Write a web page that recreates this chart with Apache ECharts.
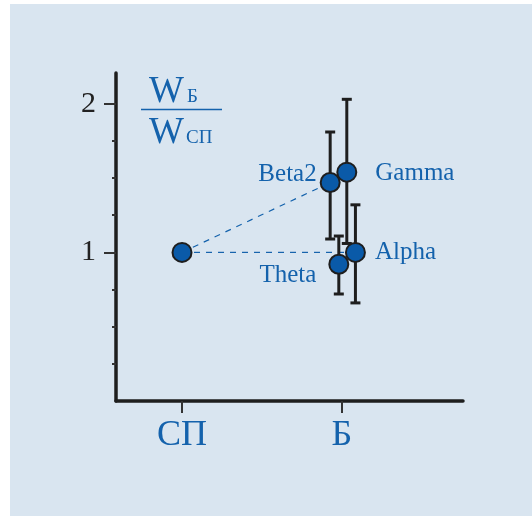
<!DOCTYPE html>
<html>
<head>
<meta charset="utf-8">
<script src="https://cdn.jsdelivr.net/npm/echarts@6/dist/echarts.min.js"></script>
<style>
  html, body { margin: 0; padding: 0; background: #ffffff; }
  #bg { position: absolute; left: 10px; top: 4px; width: 522px; height: 512px; background: #d9e5f0; }
  #chart { position: absolute; left: 0; top: 0; width: 532px; height: 516px; }
</style>
</head>
<body>
<div id="bg"></div>
<div id="chart"></div>
<script>
// ---- data ----
var categories = ['СП', 'Б'];
var referenceValue = 1.0;              // СП (normalised)
var groups = ['Beta2', 'Gamma', 'Alpha', 'Theta'];
var means  = [1.47, 1.54, 1.00, 0.92];
var lower  = [1.09, 1.06, 0.66, 0.72];
var upper  = [1.81, 2.03, 1.32, 1.11];
var xJitter = [-0.073, 0.031, 0.085, -0.019];   // horizontal spread around Б
var yMajorTicks = [1, 2];
var yMinorTicks = [0.25, 0.5, 0.75, 1.25, 1.5, 1.75];
var xTicks = [1, 2];
var connectedGroups = ['Beta2', 'Alpha'];        // dashed links from СП

// ---- styling ----
var BLUE_TEXT = '#1462ac';
var BLUE_FILL = '#0a5aa8';
var DARK = '#1e1e1e';
var FONT = '"Liberation Serif", "DejaVu Serif", serif';

var bX = 2; // position of Б category
var pts = groups.map(function (g, i) { return [bX + xJitter[i], means[i]]; });

var labelCfg = {
  Beta2: { position: 'left', distance: 3, offset: [0, -8] },
  Gamma: { position: 'right', distance: 18, offset: [0, 1] },
  Alpha: { position: 'right', distance: 9, offset: [0, 0] },
  Theta: { position: 'left', distance: 10, offset: [-2, 11] }
};

var scatterData = [{ value: [1, referenceValue], label: { show: false } }].concat(
  groups.map(function (g, i) {
    var c = labelCfg[g];
    return {
      value: pts[i],
      name: g,
      label: {
        show: true, formatter: g, position: c.position, distance: c.distance, offset: c.offset,
        color: BLUE_TEXT, fontFamily: FONT, fontSize: 25
      }
    };
  })
);

var errData = groups.map(function (g, i) { return [pts[i][0], lower[i], upper[i]]; });

var dashSeries = connectedGroups.map(function (g) {
  var i = groups.indexOf(g);
  return {
    type: 'line', data: [[1, referenceValue], pts[i]], symbol: 'none', silent: true, z: 1,
    lineStyle: { color: BLUE_TEXT, width: 1.2, type: [6, 6] }
  };
});

var chart = echarts.init(document.getElementById('chart'), null, { renderer: 'canvas' });
chart.setOption({
  backgroundColor: 'transparent',
  animation: false,
  grid: { left: 116, right: 69, top: 73, bottom: 115, containLabel: false },
  xAxis: {
    type: 'value', min: 0.587, max: 2.758,
    splitLine: { show: false },
    axisLine: { show: true, lineStyle: { color: DARK, width: 3.5 } },
    axisTick: { show: true, customValues: xTicks, length: 12, lineStyle: { color: '#333', width: 2 } },
    axisLabel: {
      customValues: xTicks, margin: 17,
      formatter: function (v) { return categories[Math.round(v) - 1]; },
      color: BLUE_TEXT, fontFamily: FONT, fontSize: 36
    }
  },
  yAxis: [{
    type: 'value', min: 0, max: 2.207, position: 'left',
    splitLine: { show: false },
    axisLine: { show: true, lineStyle: { color: DARK, width: 3.5 } },
    axisTick: { show: true, customValues: yMajorTicks, length: 12, lineStyle: { color: '#333', width: 2 } },
    axisLabel: { customValues: yMajorTicks, margin: 20, color: '#222', fontFamily: FONT, fontSize: 30 }
  }, {
    type: 'value', min: 0, max: 2.207, position: 'left', offset: 0,
    splitLine: { show: false },
    axisLine: { show: false },
    axisTick: { show: true, customValues: yMinorTicks, length: 4, lineStyle: { color: '#333', width: 2 } },
    axisLabel: { show: false }
  }],
  graphic: [
    { type: 'text', left: 149, top: 74, style: { text: 'W', fill: BLUE_TEXT, font: '37px ' + FONT } },
    { type: 'text', left: 187, top: 88, style: { text: 'Б', fill: BLUE_TEXT, font: '19px ' + FONT } },
    { type: 'line', shape: { x1: 141, y1: 109.5, x2: 222, y2: 109.5 }, style: { stroke: BLUE_TEXT, lineWidth: 1.5 } },
    { type: 'text', left: 149, top: 115, style: { text: 'W', fill: BLUE_TEXT, font: '37px ' + FONT } },
    { type: 'text', left: 186, top: 129, style: { text: 'СП', fill: BLUE_TEXT, font: '19px ' + FONT } }
  ],
  series: dashSeries.concat([
    {
      type: 'custom', z: 3, silent: true,
      renderItem: function (params, api) {
        var x = api.value(0);
        var top = api.coord([x, api.value(2)]);
        var bot = api.coord([x, api.value(1)]);
        var hw = 5;
        var st = { stroke: DARK, lineWidth: 3 };
        return {
          type: 'group',
          children: [
            { type: 'line', shape: { x1: top[0], y1: top[1], x2: bot[0], y2: bot[1] }, style: st },
            { type: 'line', shape: { x1: top[0] - hw, y1: top[1], x2: top[0] + hw, y2: top[1] }, style: st },
            { type: 'line', shape: { x1: bot[0] - hw, y1: bot[1], x2: bot[0] + hw, y2: bot[1] }, style: st }
          ]
        };
      },
      encode: { x: 0, y: [1, 2] },
      data: errData
    },
    {
      type: 'scatter', z: 5, symbol: 'circle', symbolSize: 19,
      itemStyle: { color: BLUE_FILL, borderColor: DARK, borderWidth: 2, opacity: 1 },
      data: scatterData
    }
  ])
});
</script>
</body>
</html>
